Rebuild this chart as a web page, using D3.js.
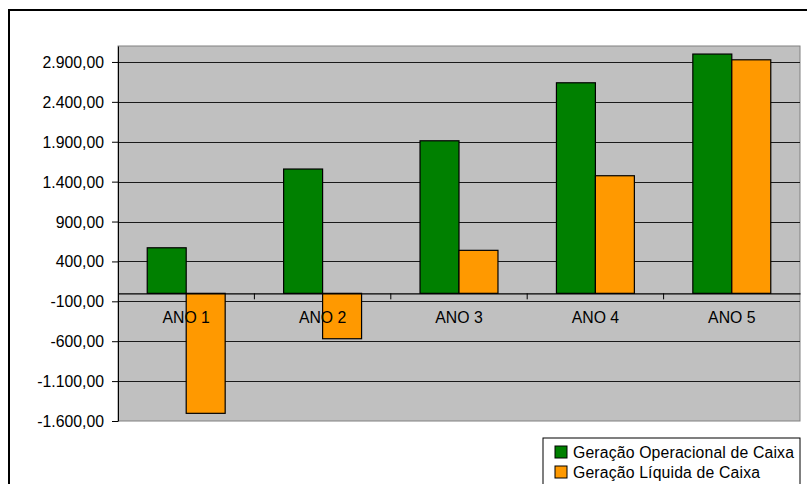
<!DOCTYPE html>
<html><head><meta charset="utf-8">
<script src="https://cdn.jsdelivr.net/npm/d3@7"></script>
<style>body{margin:0;background:#fff}svg{display:block}text{font-family:"Liberation Sans",Arial,sans-serif}</style>
</head><body>
<svg id="c" width="807" height="484"></svg>
<script>
const categories = ["ANO 1","ANO 2","ANO 3","ANO 4","ANO 5"];
const seriesNames = ["Geração Operacional de Caixa","Geração Líquida de Caixa"];
const operacional = [571, 1558, 1912, 2639, 2999];
const liquida = [-1504, -569, 539, 1474, 2927];
const yTicks = [-1600,-1100,-600,-100,400,900,1400,1900,2400,2900];
const colors = ["#008000","#FF9900"];
const FS = 15.8;

const svg = d3.select("#c");
// outer chart border
svg.append("rect").attr("x",9).attr("y",10).attr("width",820).attr("height",500)
  .attr("fill","#fff").attr("stroke","#000").attr("stroke-width",2);

const L=118, R=800, T=46, B=421;
const x = d3.scaleBand().domain(categories).range([L,R]).paddingInner(0).paddingOuter(0);
const xs = d3.scaleBand().domain([0,1]).range([0,x.bandwidth()]).paddingInner(0).paddingOuter(0.75);
const y = d3.scaleLinear().domain([-1600,3100]).range([B,T]);

svg.append("rect").attr("x",L).attr("y",T).attr("width",R-L).attr("height",B-T)
  .attr("fill","#C0C0C0").attr("stroke","#808080").attr("stroke-width",1);

// gridlines
svg.append("g").selectAll("line").data(yTicks.filter(d=>d>-1600)).join("line")
  .attr("x1",L).attr("x2",R).attr("y1",d=>Math.round(y(d))+0.5).attr("y2",d=>Math.round(y(d))+0.5)
  .attr("stroke","#1a1a1a").attr("stroke-width",1.2);

// y axis
const yAxis = d3.axisLeft(y).tickValues(yTicks).tickSize(6).tickSizeOuter(0)
  .tickFormat(d=>{const s=d3.format(",.2f")(d);return s.replace(/,/g,"#").replace(".",",").replace(/#/g,".").replace("−","-");});
const ga = svg.append("g").attr("transform",`translate(${L},0)`).call(yAxis);
ga.select(".domain").attr("stroke","#000");
ga.selectAll(".tick line").attr("stroke","#000");
ga.selectAll("text").attr("font-size",FS).attr("fill","#000").attr("x",-14).attr("dy","0.35em");

// bars
const data = categories.map((c,i)=>({c, v:[operacional[i], liquida[i]]}));
const g = svg.append("g");
data.forEach(d=>{
  d.v.forEach((v,j)=>{
    g.append("rect").attr("x",x(d.c)+xs(j)).attr("width",xs.bandwidth())
      .attr("y",y(Math.max(0,v))).attr("height",Math.abs(y(v)-y(0)))
      .attr("fill",colors[j]).attr("stroke","#000").attr("stroke-width",1.2);
  });
});

// category axis at zero
const xAxis = d3.axisBottom(x).tickSize(0).tickSizeOuter(0);
const gx = svg.append("g").attr("transform",`translate(0,${y(0)})`).call(xAxis);
gx.select(".domain").attr("stroke","#000").attr("stroke-width",1.2);
gx.selectAll("text").attr("font-size",FS).attr("fill","#000").attr("dy","0").attr("y",30);
// boundary tick marks
svg.append("g").selectAll("line").data(categories.slice(1)).join("line")
  .attr("x1",d=>x(d)).attr("x2",d=>x(d)).attr("y1",y(0)).attr("y2",y(0)+6).attr("stroke","#000");
svg.node().appendChild(gx.node());

// legend
const lg = svg.append("g");
lg.append("rect").attr("x",543).attr("y",438).attr("width",257).attr("height",60)
  .attr("fill","#fff").attr("stroke","#000");
seriesNames.forEach((n,i)=>{
  const yy = 452 + i*20;
  lg.append("rect").attr("x",555).attr("y",yy-6).attr("width",12).attr("height",12)
    .attr("fill",colors[i]).attr("stroke","#000");
  lg.append("text").attr("x",573).attr("y",yy).attr("dy","0.35em").attr("font-size",FS)
    .attr("letter-spacing",0.15).text(n);
});
</script>
</body></html>
